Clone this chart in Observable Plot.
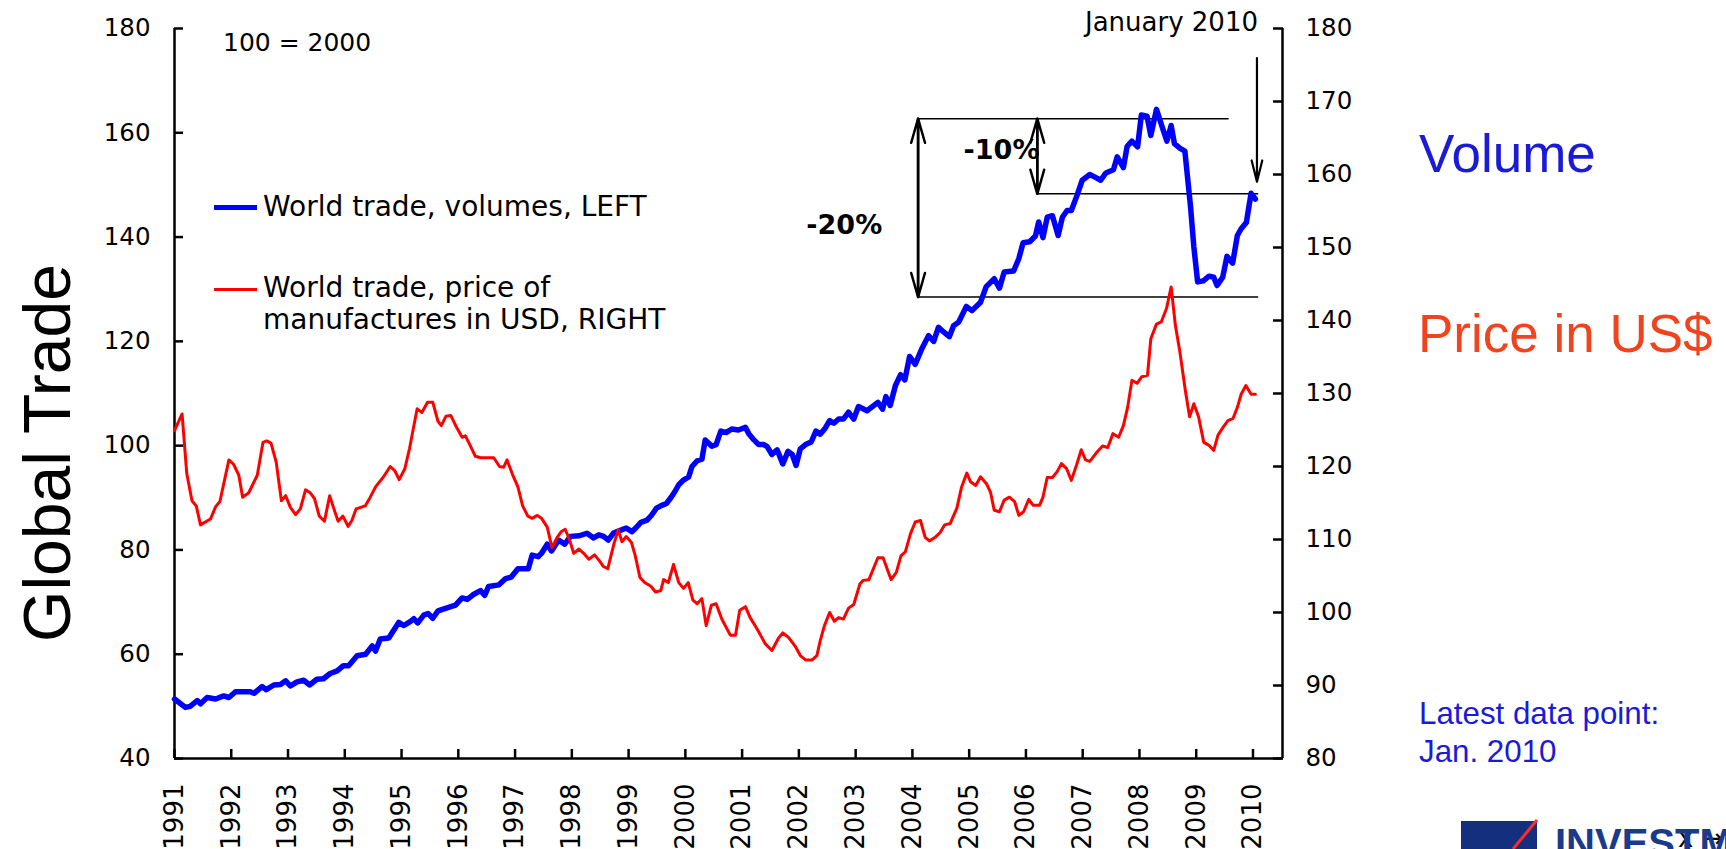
<!DOCTYPE html>
<html><head><meta charset="utf-8">
<script src="https://cdn.jsdelivr.net/npm/d3@7"></script>
<script src="https://cdn.jsdelivr.net/npm/@observablehq/plot@0.6"></script>
<style>
html,body{margin:0;padding:0;background:#fff;overflow:hidden;}
#wrap{position:relative;width:1726px;height:849px;overflow:hidden;font-family:"DejaVu Sans",Verdana,sans-serif;color:#000;}
#wrap svg{position:absolute;left:0;top:0;}
.abs{position:absolute;white-space:nowrap;line-height:1;}
.arial{font-family:"Liberation Sans",Arial,sans-serif;}
</style></head><body><div id="wrap"></div>
<script>
// ---- data: [months since Jan 1991, index] ----
const volumeSeries = [[0,51.4],[2.3,49.8],[3.3,50.0],[4.8,51.1],[5.5,50.5],[6.9,51.7],[8.7,51.4],[10.4,52.0],[11.5,51.7],[12.9,52.8],[16,52.8],[16.8,52.5],[18.5,53.8],[19.4,53.2],[21,54.1],[22.4,54.2],[23.5,54.9],[24.5,53.9],[25.9,54.7],[27.3,55.0],[28.6,54.1],[30.1,55.2],[31.5,55.3],[32.9,56.3],[34.4,56.8],[35.7,57.8],[36.8,57.8],[38.6,59.7],[40.4,60.0],[41.8,61.6],[42.5,60.6],[43.5,62.9],[45.3,63.1],[47.4,66.1],[48.5,65.5],[49.9,66.3],[50.6,66.8],[51.4,66.0],[52.7,67.5],[53.6,67.8],[54.6,66.9],[55.7,68.3],[57.3,68.8],[59.4,69.4],[60.8,70.8],[61.9,70.5],[63.1,71.4],[64.7,72.2],[65.6,71.3],[66.4,73.0],[68.6,73.3],[70.0,74.5],[71.2,74.8],[72.6,76.4],[74.8,76.4],[75.6,79.0],[76.9,78.7],[77.7,79.5],[78.8,81.1],[79.7,79.8],[81.2,81.9],[82.5,81.1],[83.7,82.6],[85.5,82.7],[87.2,83.2],[88.6,82.3],[89.7,82.9],[90.7,82.6],[91.7,81.9],[92.9,83.3],[94.1,83.7],[95.5,84.2],[96.7,83.5],[97.6,84.3],[98.6,85.3],[99.9,85.7],[100.8,86.6],[101.9,88.0],[102.9,88.5],[104.0,88.9],[105.0,90.1],[105.8,91.2],[106.6,92.5],[107.6,93.4],[108.7,94.0],[109.4,96.0],[110.5,97.1],[111.5,97.4],[112.2,101.1],[113.6,99.9],[114.5,100.2],[115.5,102.8],[116.6,102.5],[117.8,103.2],[119.2,103.0],[120.7,103.5],[121.4,102.3],[122.5,101.1],[123.5,100.2],[124.6,100.2],[125.3,99.8],[126.3,98.3],[127.4,99.2],[128.6,96.5],[129.7,98.9],[130.6,98.3],[131.4,96.2],[132.3,99.4],[133.4,100.2],[134.6,100.7],[135.6,102.8],[136.5,102.2],[137.6,103.4],[138.5,104.8],[139.4,104.3],[140.4,105.1],[141.4,105.1],[142.5,106.4],[143.6,105.1],[144.6,107.5],[146.4,106.7],[148.7,108.3],[149.7,107.0],[150.4,109.4],[151.3,107.7],[152.4,111.5],[153.5,113.6],[154.4,112.6],[155.4,117.1],[156.6,115.6],[158.0,118.6],[159.4,121.1],[160.5,120.0],[161.5,122.7],[162.6,121.8],[163.8,120.9],[164.7,123.0],[165.8,123.7],[167.4,126.7],[168.6,125.9],[170.4,127.5],[171.6,130.5],[173.3,132.0],[174.4,130.2],[175.4,133.3],[177.4,133.5],[178.5,135.9],[179.4,138.9],[180.8,139.1],[182.0,140.2],[182.7,142.9],[183.6,139.9],[184.5,143.8],[185.6,144.1],[186.8,140.3],[187.7,143.8],[188.7,145.1],[189.6,145.1],[190.8,148.0],[191.9,150.9],[193.5,152.0],[194.8,151.4],[195.8,150.9],[196.9,152.3],[198.5,152.9],[199.3,155.4],[200.6,153.3],[201.4,157.4],[202.4,158.4],[203.6,157.3],[204.4,163.4],[205.6,163.2],[206.4,159.5],[207.6,164.5],[208.7,161.4],[209.8,158.4],[210.7,161.4],[211.4,157.9],[212.6,157.0],[213.6,156.5],[214.8,145.8],[215.5,138.1],[216.3,131.4],[217.5,131.6],[218.7,132.5],[219.7,132.3],[220.4,130.7],[221.6,132.3],[222.5,136.3],[223.7,135.0],[224.7,140.3],[225.5,141.6],[226.6,142.8],[227.6,148.4],[228.5,147.3]];

const priceSeries = [[0,124.9],[1.6,127.2],[2.6,119.0],[3.7,115.3],[4.6,114.6],[5.5,112.0],[7.6,112.8],[8.7,114.5],[9.6,115.2],[11.5,120.9],[12.5,120.3],[13.6,118.8],[14.4,115.8],[15.7,116.4],[17.5,118.8],[18.7,123.3],[19.5,123.5],[20.4,123.2],[21.5,120.6],[22.6,115.3],[23.5,116.0],[24.5,114.4],[25.6,113.4],[26.6,114.2],[27.7,116.8],[28.7,116.4],[29.6,115.6],[30.6,113.2],[31.7,112.5],[32.8,116.0],[33.7,114.2],[34.6,112.5],[35.6,113.2],[36.7,111.8],[37.5,112.6],[38.4,114.2],[40.3,114.6],[41.3,115.7],[42.5,117.2],[44.2,118.6],[45.6,120.0],[46.6,119.4],[47.5,118.2],[48.7,119.7],[49.7,122.5],[50.4,124.9],[51.3,127.9],[52.3,127.4],[53.5,128.8],[54.6,128.8],[55.7,126.2],[56.4,125.6],[57.4,126.9],[58.4,127.0],[59.6,125.4],[60.8,124.0],[61.5,124.2],[62.5,122.9],[63.6,121.4],[64.7,121.2],[67.5,121.2],[68.7,120.0],[69.6,119.9],[70.3,120.9],[71.4,119.0],[72.6,117.2],[73.6,114.6],[74.7,113.2],[75.6,112.9],[76.7,113.3],[77.6,112.9],[78.8,111.7],[79.8,108.9],[80.9,110.3],[81.8,111.1],[82.6,111.4],[83.5,110.0],[84.4,108.1],[85.5,108.7],[86.5,108.1],[87.6,107.3],[88.8,107.9],[89.8,107.1],[90.7,106.3],[91.6,106.0],[92.9,109.4],[93.8,111.3],[94.6,109.7],[95.5,110.4],[96.6,109.6],[97.4,107.8],[98.4,104.8],[99.4,104.1],[100.7,103.6],[101.7,102.8],[102.8,103.0],[103.4,104.5],[104.4,104.1],[105.5,106.6],[106.6,104.1],[107.6,103.3],[108.6,104.1],[109.6,101.7],[110.5,101.2],[111.5,101.9],[112.4,98.2],[113.5,101.0],[114.5,101.2],[115.7,99.1],[117.5,96.9],[118.6,96.9],[119.5,100.3],[120.7,100.8],[121.7,99.3],[123.2,97.7],[124.9,95.7],[126.3,94.8],[127.7,96.5],[128.6,97.2],[129.8,96.6],[131.2,95.4],[132.3,94.1],[133.4,93.5],[134.8,93.5],[135.8,94.1],[136.5,96.1],[137.4,98.2],[138.5,100.0],[139.5,98.8],[140.4,99.3],[141.4,99.1],[142.5,100.6],[143.6,101.1],[144.9,103.9],[145.6,104.4],[146.8,104.5],[148.7,107.5],[149.8,107.5],[151.5,104.5],[152.6,105.5],[153.6,107.8],[154.5,108.3],[155.6,110.8],[156.6,112.4],[157.7,112.6],[158.7,110.3],[159.6,109.8],[160.8,110.3],[161.9,111.0],[162.8,112.0],[164.0,112.2],[165.4,114.3],[166.4,117.2],[167.5,119.1],[168.3,117.9],[169.4,117.4],[170.4,118.6],[171.7,117.6],[172.5,116.5],[173.3,114.0],[174.4,113.8],[175.4,115.4],[176.5,115.8],[177.6,115.2],[178.5,113.3],[179.5,113.8],[180.6,115.5],[181.5,114.7],[182.9,114.7],[183.6,115.8],[184.5,118.5],[185.6,118.5],[186.6,119.3],[187.5,120.4],[188.6,119.7],[189.6,118.1],[190.7,120.2],[191.7,122.3],[192.6,120.9],[193.5,120.7],[194.8,121.8],[196.2,122.8],[197.3,122.6],[198.4,124.5],[199.6,124.0],[200.6,125.6],[201.5,128.1],[202.4,131.8],[203.5,131.4],[204.5,132.3],[205.7,132.5],[206.4,137.5],[207.6,139.5],[208.6,139.8],[209.7,141.6],[210.7,144.6],[211.6,139.3],[212.5,135.9],[213.7,130.4],[214.6,126.8],[215.5,128.6],[216.5,126.8],[217.6,123.3],[218.7,122.9],[219.7,122.2],[220.6,124.3],[221.7,125.4],[222.7,126.3],[223.8,126.6],[224.7,128.1],[225.5,129.9],[226.5,131.1],[227.6,129.9],[228.5,129.9]];

const leftTicks = [40, 60, 80, 100, 120, 140, 160, 180];
const rightTicks = [80, 90, 100, 110, 120, 130, 140, 150, 160, 170, 180];
const yearTicks = [1991,1992,1993,1994,1995,1996,1997,1998,1999,2000,2001,2002,2003,2004,2005,2006,2007,2008,2009,2010];

// annotation anchors (data space: decimal year, left-axis index)
const bandLevels = [162.7, 148.3, 128.5];
const bandStart = [2004.1, 2006.2, 2004.1];
const bandEnd = [2009.58, 2010.1, 2010.1];
const dropX = [2004.1, 2004.1, 2006.2, 2006.2];
const dropFrom = [128.5, 162.7, 148.3, 162.7];
const dropTo = [162.7, 128.5, 162.7, 148.3];
const latestArrow = {x: 2010.07, from: 174.3, to: 150.6};
const pctLabels = ["-20%", "-10%"];
const pctX = [2002.8, 2005.57];
const pctY = [142.25, 156.6];

// ---- chart ----
const W = 1726, H = 849;
const xDomain = [1991, 2010.52];
const toYear = m => 1991 + m / 12;
const rightToLeft = r => 40 + (r - 80) * 1.4;
const leftToRight = v => 80 + (v - 40) / 1.4;
const volData = volumeSeries.map(([m, v]) => ({x: toYear(m), y: v}));
const priceData = priceSeries.map(([m, v]) => ({x: toYear(m), y: rightToLeft(v)}));

const chart = Plot.plot({
  width: W, height: H,
  marginLeft: 174, marginRight: W - 1282, marginTop: 28, marginBottom: H - 758,
  style: {fontFamily: "DejaVu Sans, Verdana, sans-serif", fontSize: "24px", color: "#000", background: "transparent", overflow: "visible"},
  x: {domain: xDomain, axis: null},
  y: {domain: [40, 180], axis: null},
  marks: [
    Plot.axisY(leftTicks, {anchor: "left", tickSize: -9, tickPadding: 33, strokeWidth: 2.5, fontSize: 24.5, tickFormat: d => String(d)}),
    Plot.axisY(rightTicks.map(rightToLeft), {anchor: "right", tickSize: -10, tickPadding: 33, strokeWidth: 2.5, fontSize: 24.5, tickFormat: v => String(Math.round(leftToRight(v)))}),
    Plot.axisX(yearTicks, {anchor: "bottom", tickSize: -9, tickPadding: 34, tickRotate: -90, strokeWidth: 2.5, fontSize: 26, tickFormat: d => String(d)}),
    Plot.ruleX([xDomain[0], xDomain[1]], {stroke: "#000", strokeWidth: 2.5}),
    Plot.ruleY([40], {stroke: "#000", strokeWidth: 2.5}),
    Plot.ruleY(bandLevels, {y: d => d, x1: (d, i) => bandStart[i], x2: (d, i) => bandEnd[i], stroke: "#000", strokeWidth: 1.5}),
    Plot.line(volData, {x: "x", y: "y", stroke: "#0000ff", strokeWidth: 5.5, strokeLinejoin: "round"}),
    Plot.line(priceData, {x: "x", y: "y", stroke: "#ff0000", strokeWidth: 3, strokeLinejoin: "round"}),
    Plot.text(pctLabels, {x: (d, i) => pctX[i], y: (d, i) => pctY[i], text: d => d, fontSize: 27, fontWeight: "bold", fill: "#000"}),
    Plot.arrow(dropX, {x1: d => d, x2: d => d, y1: (d, i) => dropFrom[i], y2: (d, i) => dropTo[i], stroke: "#000", strokeWidth: 2.5, headLength: 15, headAngle: 32}),
    Plot.arrow([latestArrow], {x1: "x", x2: "x", y1: "from", y2: "to", stroke: "#000", strokeWidth: 2.2, headLength: 15, headAngle: 28})
  ]
});

const wrap = document.getElementById("wrap");
wrap.append(chart);

function addText(html, css, cls) {
  const d = document.createElement("div");
  d.className = "abs " + (cls || "");
  d.innerHTML = html;
  Object.assign(d.style, css);
  wrap.append(d);
  return d;
}
// baseline ~ top + 0.846*fontSize for line-height:1
addText("100 = 2000", {left: "223px", top: "29.5px", fontSize: "25px"});
addText("January 2010", {right: (W - 1258) + "px", top: "9px", fontSize: "26px"});

// legend
addText("", {left: "214px", top: "204.5px", width: "43px", height: "5px", background: "#0000ff"});
addText("World trade, volumes, LEFT", {left: "263px", top: "193.3px", fontSize: "28px"});
addText("", {left: "214px", top: "287.5px", width: "43px", height: "3px", background: "#ff0000"});
addText("World trade, price of<br>manufactures in USD, RIGHT", {left: "263px", top: "272.2px", fontSize: "28px", lineHeight: "32px"});

// big labels
addText("Global Trade", {left: "47px", top: "453px", fontSize: "66px", transform: "translate(-50%,-50%) rotate(-90deg)"}, "arial");
addText("Volume", {left: "1419px", top: "126.9px", fontSize: "53px", color: "#1a1ad8"}, "arial");
addText("Price in US$", {left: "1418px", top: "306.9px", fontSize: "53px", color: "#f0441f"}, "arial");
addText("Latest data point:<br>Jan. 2010", {left: "1419px", top: "695.2px", fontSize: "31.3px", lineHeight: "38px", color: "#1a1ad8"}, "arial");

// logo (partially visible, cut by the page edge as in the source)
addText("", {left: "1461px", top: "821px", width: "76px", height: "28px", background: "#142f7e"});
const logoSvg = document.createElementNS("http://www.w3.org/2000/svg", "svg");
logoSvg.setAttribute("width", W); logoSvg.setAttribute("height", H);
logoSvg.style.pointerEvents = "none";
logoSvg.innerHTML = '<line x1="1537" y1="820" x2="1513" y2="849" stroke="#ff2a2a" stroke-width="3"/>';
wrap.append(logoSvg);
addText("INVESTM", {left: "1555px", top: "822.8px", fontSize: "40px", fontWeight: "bold", color: "#1b3a8c"}, "arial");
</script></body></html>
